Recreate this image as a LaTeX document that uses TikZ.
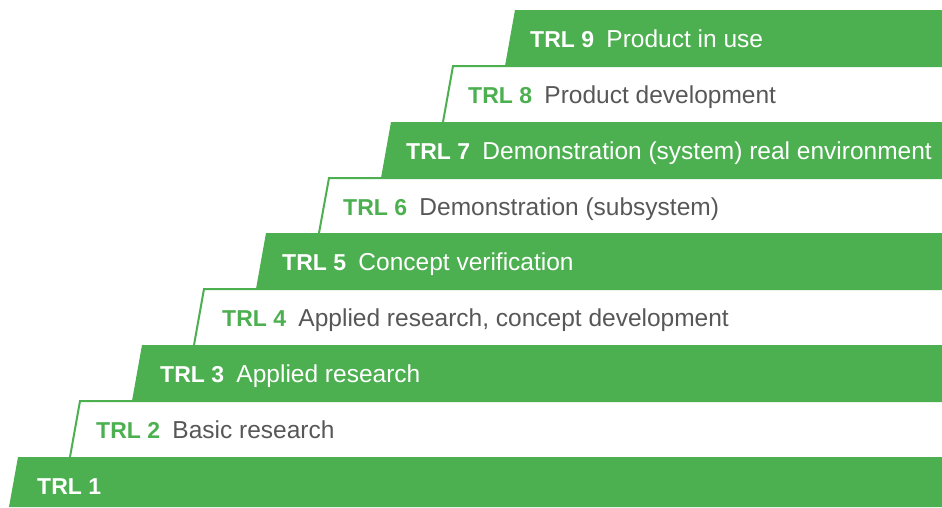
\documentclass[tikz,border=0pt]{standalone}
\usepackage{fontspec}
\setmainfont{Liberation Sans}
\usetikzlibrary{positioning}
\definecolor{trlgreen}{HTML}{4CAF50}
\definecolor{trlgray}{HTML}{575757}

\begin{document}
\begin{tikzpicture}[x=1pt,y=-1pt,
    greenbar/.style={fill=trlgreen},
    whiteedge/.style={draw=trlgreen,line width=2pt},
    lvl/.style={inner sep=0pt,anchor=base west,font=\fontsize{23}{23}\selectfont\bfseries},
    desc/.style={inner sep=0pt,font=\fontsize{24.5}{24.5}\selectfont}]
  \useasboundingbox (0,0) rectangle (942,507);
  % escalones blancos (TRL 2, 4, 6, 8)
  \draw[whiteedge] (942,401) -- (80,401) -- (70,457);
  \draw[whiteedge] (942,289) -- (204,289) -- (194,345);
  \draw[whiteedge] (942,178) -- (329,178) -- (319,233);
  \draw[whiteedge] (942,66) -- (453,66) -- (443,122);
  % escalones verdes (TRL 1, 3, 5, 7, 9)
  \fill[greenbar] (18,457) -- (942,457) -- (942,507) -- (9,507) -- cycle;
  \fill[greenbar] (142,345) -- (942,345) -- (942,401) -- (132,401) -- cycle;
  \fill[greenbar] (266,233) -- (942,233) -- (942,289) -- (256,289) -- cycle;
  \fill[greenbar] (391,122) -- (942,122) -- (942,178) -- (381,178) -- cycle;
  \fill[greenbar] (515,10) -- (942,10) -- (942,66) -- (505,66) -- cycle;
  % etiquetas
  \node[lvl,text=white] (trl1) at (37,494) {TRL 1};
  \node[lvl,text=trlgreen] (trl2) at (96,438) {TRL 2};
  \node[desc,text=trlgray,base right=12pt of trl2] (d2) {Basic research};
  \node[lvl,text=white] (trl3) at (160,382) {TRL 3};
  \node[desc,text=white,base right=12pt of trl3] (d3) {Applied research};
  \node[lvl,text=trlgreen] (trl4) at (222,326) {TRL 4};
  \node[desc,text=trlgray,base right=12pt of trl4] (d4) {Applied research, concept development};
  \node[lvl,text=white] (trl5) at (282,270) {TRL 5};
  \node[desc,text=white,base right=12pt of trl5] (d5) {Concept verification};
  \node[lvl,text=trlgreen] (trl6) at (343,215) {TRL 6};
  \node[desc,text=trlgray,base right=12pt of trl6] (d6) {Demonstration (subsystem)};
  \node[lvl,text=white] (trl7) at (406,159) {TRL 7};
  \node[desc,text=white,base right=12pt of trl7] (d7) {Demonstration (system) real environment};
  \node[lvl,text=trlgreen] (trl8) at (468,103) {TRL 8};
  \node[desc,text=trlgray,base right=12pt of trl8] (d8) {Product development};
  \node[lvl,text=white] (trl9) at (530,47) {TRL 9};
  \node[desc,text=white,base right=12pt of trl9] (d9) {Product in use};
\end{tikzpicture}
\end{document}
